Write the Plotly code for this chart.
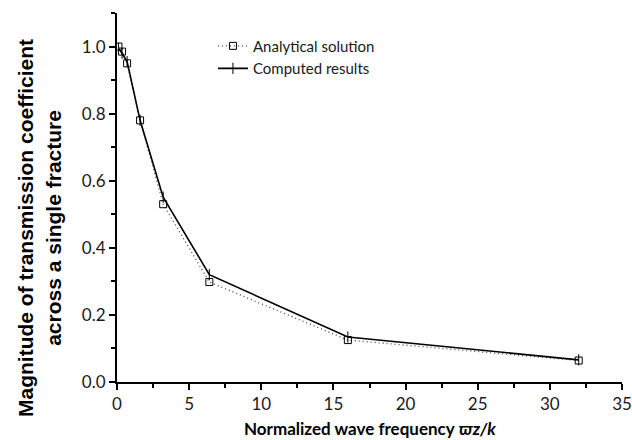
import plotly.graph_objects as go

freq_analytical = [0.1, 0.35, 0.7, 1.6, 3.2, 6.4, 16, 32]
mag_analytical = [1.0, 0.985, 0.95, 0.78, 0.53, 0.298, 0.125, 0.064]

freq_computed = [0.1, 0.35, 0.7, 1.6, 3.2, 6.4, 16, 32]
mag_computed = [0.995, 0.98, 0.955, 0.78, 0.551, 0.32, 0.134, 0.066]

x_title = "<b>Normalized wave frequency <i>ϖz/k</i></b>"
y_title = "<b>Magnitude of transmission coefficient<br>across a single fracture</b>"

fig = go.Figure()
fig.add_trace(go.Scatter(
    x=freq_analytical, y=mag_analytical, mode="lines+markers",
    name="Analytical solution",
    line=dict(color="#444444", width=1.3, dash="1px,3px"),
    marker=dict(symbol="square-open", size=7, color="black", line=dict(width=1)),
))
fig.add_trace(go.Scatter(
    x=freq_computed, y=mag_computed, mode="lines+markers",
    name="Computed results",
    line=dict(color="black", width=1.6),
    marker=dict(symbol="line-ns", size=8, color="black", line=dict(width=1, color="black")),
))

axis_common = dict(
    showline=True, linecolor="black", linewidth=2, ticks="outside",
    ticklen=6, tickwidth=2, tickcolor="black", showgrid=False, zeroline=False,
    automargin=False,
    tickfont=dict(family="Lato, Open Sans, sans-serif", size=17, color="#1a1a1a"),
)

fig.update_xaxes(
    range=[0, 35], tick0=0, dtick=5, **axis_common,
    minor=dict(ticks="outside", ticklen=4, tickwidth=2, tickcolor="black", dtick=2.5),
)
fig.update_yaxes(
    range=[0, 1.1], tick0=0, dtick=0.2, tickformat=".1f", **axis_common,
    minor=dict(ticks="outside", ticklen=4, tickwidth=2, tickcolor="black", dtick=0.1),
)

fig.add_annotation(
    text=x_title, xref="paper", yref="paper", x=0.5, y=-0.126,
    xanchor="center", yanchor="middle", showarrow=False,
    font=dict(family="Lato, Open Sans, sans-serif", size=17, color="black"),
)
fig.add_annotation(
    text=y_title, xref="paper", yref="paper", x=-0.154, y=0.418,
    xanchor="center", yanchor="middle", showarrow=False, textangle=-90,
    font=dict(family="Liberation Sans, Arial", size=21, color="black"),
)

fig.update_layout(
    width=632, height=440,
    margin=dict(l=117, r=10, t=13, b=58),
    plot_bgcolor="white", paper_bgcolor="white",
    font=dict(family="Liberation Sans, Arial", color="black"),
    legend=dict(x=0.19, y=0.955, xanchor="left", yanchor="top",
                bgcolor="rgba(0,0,0,0)", font=dict(family="Lato, Open Sans, sans-serif", size=15, color="#1a1a1a"),
                tracegroupgap=0, itemwidth=30),
)

fig.write_html("out.html")
